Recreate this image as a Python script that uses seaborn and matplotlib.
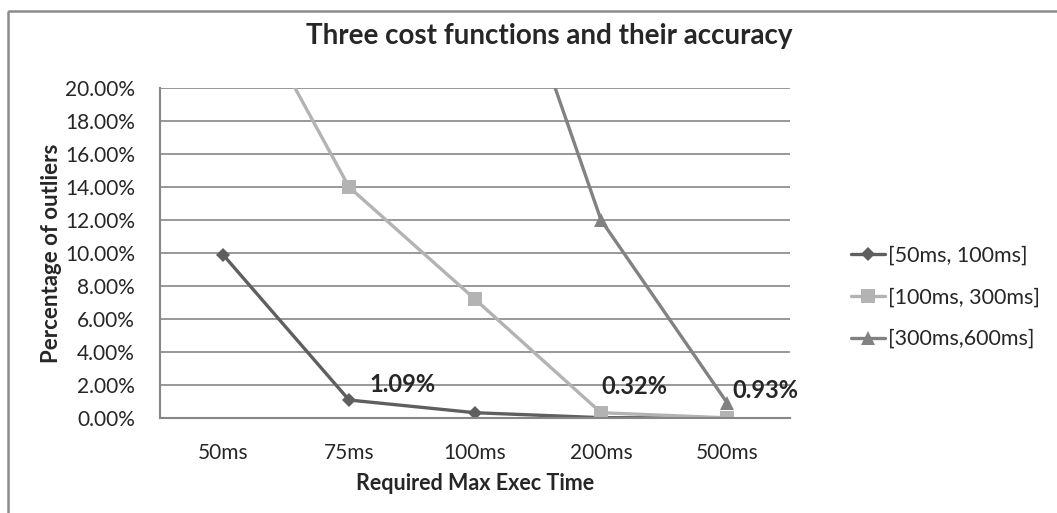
import matplotlib
matplotlib.use('Agg')
import matplotlib.pyplot as plt
from matplotlib.patches import Rectangle
from matplotlib.ticker import FuncFormatter, FixedLocator
import pandas as pd
import seaborn as sns

categories = ['50ms', '75ms', '100ms', '200ms', '500ms']
series_names = ['[50ms, 100ms]', '[100ms, 300ms]', '[300ms,600ms]']
# values as fractions; points above 20% fall outside the plotted range
s_50_100 = [0.099, 0.0109, 0.0032, 0.0002, 0.0000]
s_100_300 = [0.28, 0.14, 0.072, 0.0032, 0.0001]
s_300_600 = [0.60, 0.50, 0.34, 0.12, 0.0093]
labels = ['1.09%', '0.32%', '0.93%']

colors = ['#5f5f5f', '#b3b3b3', '#828282']
markers = ['D', 's', '^']
msizes = [7.5, 9.5, 10.5]

sns.set_style('white')
plt.rcParams['font.family'] = ['Lato', 'DejaVu Sans']

rows = []
for name, vals in zip(series_names, [s_50_100, s_100_300, s_300_600]):
    for i, v in enumerate(vals):
        rows.append({'series': name, 'pos': i, 'value': v})
df = pd.DataFrame(rows)

fig = plt.figure(figsize=(10.57, 5.13), dpi=100)
ax = fig.add_axes([160 / 1057, 1 - 418 / 513, 630 / 1057, 330 / 513])

for name, c, m, ms in zip(series_names, colors, markers, msizes):
    sub = df[df['series'] == name]
    sns.lineplot(data=sub, x='pos', y='value', ax=ax, color=c, marker=m,
                 markersize=ms, markeredgewidth=0, linewidth=2.4, label=name)

ax.set_xlim(-0.5, 4.5)
ax.set_ylim(0, 0.20)
ax.yaxis.set_major_locator(FixedLocator([i * 0.02 for i in range(11)]))
ax.yaxis.set_major_formatter(FuncFormatter(lambda v, p: '{:.2f}%'.format(v * 100)))
ax.xaxis.set_major_locator(FixedLocator(range(5)))
ax.set_xticklabels(categories)
ax.xaxis.set_minor_locator(FixedLocator([i - 0.5 for i in range(6)]))
ax.tick_params(axis='x', which='major', length=0, pad=18, labelsize=15)
ax.tick_params(axis='x', which='minor', length=6, width=1.5, color='#868686')
ax.tick_params(axis='y', length=6, width=1.5, color='#868686', pad=12, labelsize=15)
ax.grid(axis='y', color='#868686', linewidth=1.2)
ax.set_axisbelow(True)
for s in ['top', 'right']:
    ax.spines[s].set_visible(False)
for s in ['left', 'bottom']:
    ax.spines[s].set_color('#868686')
    ax.spines[s].set_linewidth(1.5)

ax.set_xlabel('Required Max Exec Time', fontsize=15.5, fontweight='bold', labelpad=7)
ax.set_ylabel('Percentage of outliers', fontsize=16, fontweight='bold', labelpad=2)
fig.text(549 / 1057, 1 - 36 / 513, 'Three cost functions and their accuracy',
         fontsize=20, fontweight='bold', ha='center', va='center')

# data labels
ax.annotate(labels[0], (1, s_50_100[1]), xytext=(15, 11), textcoords='offset points',
            fontsize=17, fontweight='bold', va='center')
ax.annotate(labels[1], (3, s_100_300[3]), xytext=(0, 19), textcoords='offset points',
            fontsize=17, fontweight='bold', va='center')
ax.annotate(labels[2], (4, s_300_600[4]), xytext=(4, 9), textcoords='offset points',
            fontsize=17, fontweight='bold', va='center')

ax.legend(loc='upper left', bbox_to_anchor=(851 / 1057, 1 - 246 / 513),
          bbox_transform=fig.transFigure, frameon=False, fontsize=15.5,
          handlelength=1.6, handletextpad=0.1, labelspacing=1.0, borderpad=0,
          borderaxespad=0)

# chart area border
fig.patches.append(Rectangle((8 / 1057, 1 - 11 / 513), 1.2, -1.2, transform=fig.transFigure,
                             fill=False, edgecolor='#8c8c8c', linewidth=1.8, clip_on=False))

fig.savefig('out.png', dpi=100)
